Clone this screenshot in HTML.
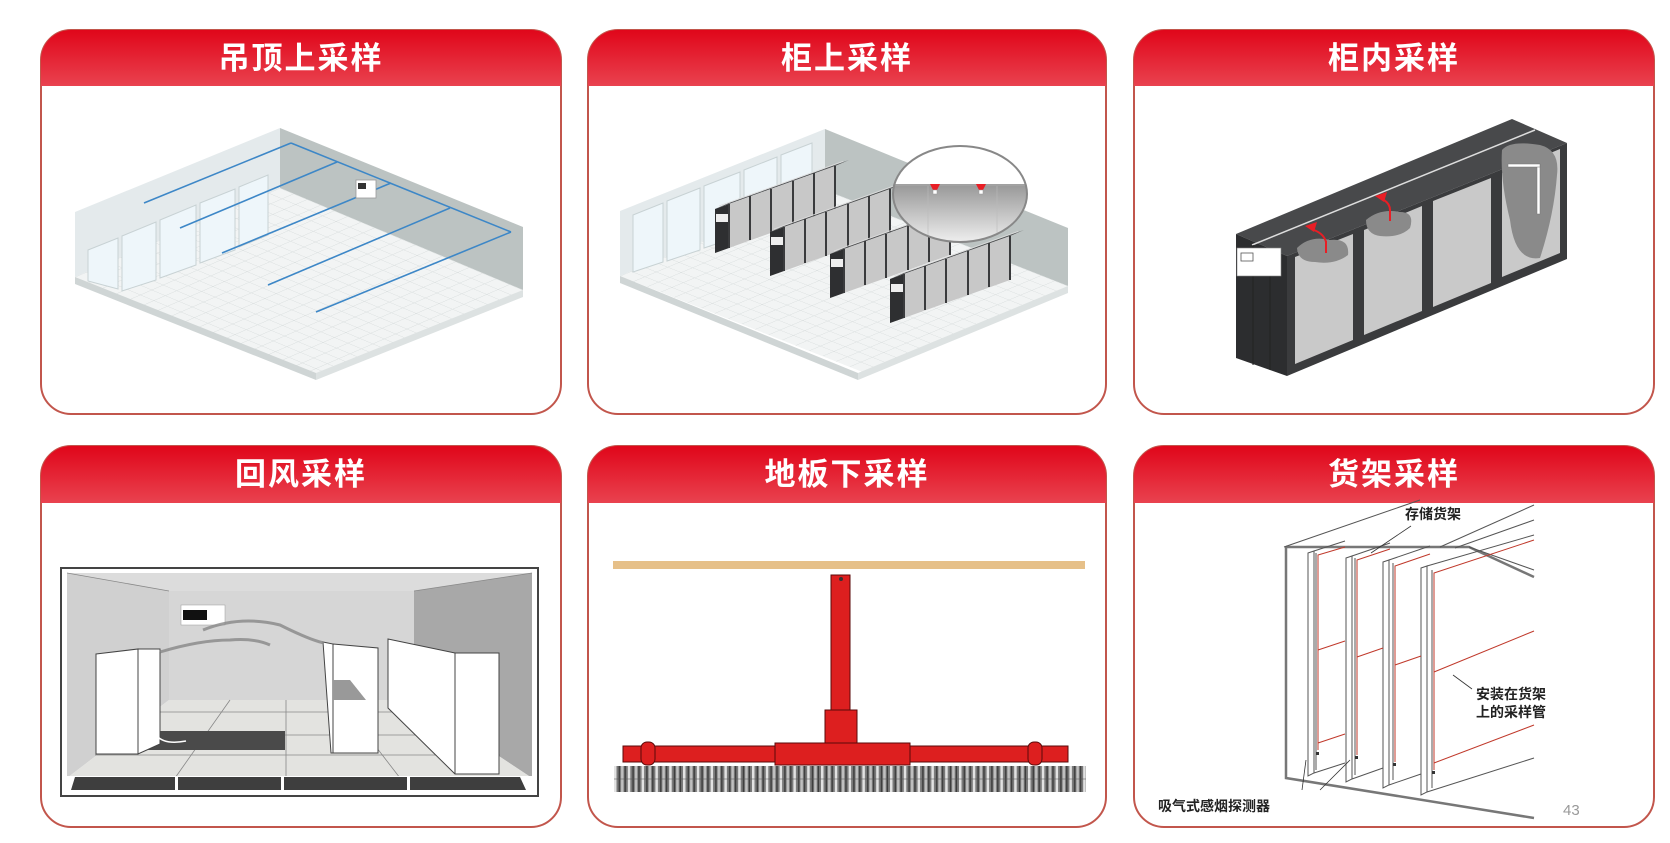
<!DOCTYPE html>
<html><head><meta charset="utf-8">
<style>
html,body{margin:0;padding:0;background:#fff;}
svg{display:block;}
text{font-family:"Liberation Sans","Noto Sans CJK SC",sans-serif;}
</style></head>
<body>
<svg width="1670" height="843" viewBox="0 0 1670 843" xmlns="http://www.w3.org/2000/svg">
<defs>
<linearGradient id="hg" x1="0" y1="0" x2="0" y2="1">
<stop offset="0" stop-color="#e0061a"/><stop offset="1" stop-color="#e9424f"/>
</linearGradient>
<linearGradient id="mg" x1="0" y1="0" x2="0" y2="1">
<stop offset="0" stop-color="#555"/><stop offset="1" stop-color="#fafafa"/>
</linearGradient>
<pattern id="tile" patternUnits="userSpaceOnUse" width="0.0555556" height="0.0555556">
<rect width="0.0555556" height="0.0555556" fill="#f2f4f4"/>
<path d="M0,0 H0.0555556 M0,0 V0.0555556" stroke="#d6dbdb" stroke-width="0.004" fill="none"/>
</pattern>
<pattern id="grt" patternUnits="userSpaceOnUse" x="614" y="0" width="13.8" height="30">
<rect width="13.8" height="30" fill="#7a7a7a"/>
<rect x="0" width="2.5" height="30" fill="#e2e2e2"/>
<rect x="4.6" width="1.4" height="30" fill="#3c3c3c"/>
<rect x="7" width="2.5" height="30" fill="#c0c0c0"/>
<rect x="10.5" width="1.4" height="30" fill="#3c3c3c"/>
</pattern>
<g id="rk">
<polygon points="0,-44 14,-50 134,-93 120,-87" fill="#4a4b4d"/>
<polygon points="0,0 0,-44 120,-87 120,-43" fill="#c8c8c8"/>
<polygon points="0,0 0,-44 14,-49 14,-5" fill="#2e2f31"/>
<g stroke="#3a3b3d" stroke-width="2">
<line x1="14" y1="-49" x2="14" y2="-5"/>
<line x1="35" y1="-57" x2="35" y2="-13"/>
<line x1="56" y1="-64" x2="56" y2="-20"/>
<line x1="78" y1="-72" x2="78" y2="-28"/>
<line x1="99" y1="-80" x2="99" y2="-36"/>
<line x1="120" y1="-87" x2="120" y2="-43"/>
</g>
<line x1="4" y1="-47" x2="128" y2="-91.6" stroke="#ddd" stroke-width="0.8"/>
<rect x="1" y="-39" width="12" height="8" fill="#eee"/>
</g>
<clipPath id="c1"><rect x="41" y="30" width="520" height="384" rx="30"/></clipPath>
<clipPath id="c2"><rect x="588" y="30" width="518" height="384" rx="30"/></clipPath>
<clipPath id="c3"><rect x="1134" y="30" width="520" height="384" rx="30"/></clipPath>
<clipPath id="c4"><rect x="41" y="446" width="520" height="381" rx="30"/></clipPath>
<clipPath id="c5"><rect x="588" y="446" width="518" height="381" rx="30"/></clipPath>
<clipPath id="c6"><rect x="1134" y="446" width="520" height="381" rx="30"/></clipPath>
<clipPath id="mag"><ellipse cx="960" cy="194" rx="67" ry="48"/></clipPath>
</defs>

<g fill="#fff" stroke="#c2564c" stroke-width="2">
<rect x="41" y="30" width="520" height="384" rx="30"/>
<rect x="588" y="30" width="518" height="384" rx="30"/>
<rect x="1134" y="30" width="520" height="384" rx="30"/>
<rect x="41" y="446" width="520" height="381" rx="30"/>
<rect x="588" y="446" width="518" height="381" rx="30"/>
<rect x="1134" y="446" width="520" height="381" rx="30"/>
</g>
<rect x="41" y="30" width="520" height="56" fill="url(#hg)" clip-path="url(#c1)"/>
<rect x="588" y="30" width="518" height="56" fill="url(#hg)" clip-path="url(#c2)"/>
<rect x="1134" y="30" width="520" height="56" fill="url(#hg)" clip-path="url(#c3)"/>
<rect x="41" y="446" width="520" height="57" fill="url(#hg)" clip-path="url(#c4)"/>
<rect x="588" y="446" width="518" height="57" fill="url(#hg)" clip-path="url(#c5)"/>
<rect x="1134" y="446" width="520" height="57" fill="url(#hg)" clip-path="url(#c6)"/>
<g fill="#fff" font-size="31" font-weight="700" text-anchor="middle" letter-spacing="2">
<text x="301" y="69">吊顶上采样</text>
<text x="847" y="69">柜上采样</text>
<text x="1394" y="69">柜内采样</text>
<text x="301" y="485">回风采样</text>
<text x="847" y="485">地板下采样</text>
<text x="1394" y="485">货架采样</text>
</g>

<!-- Panel 1 -->
<g>
<polygon points="280,128 523,227 523,290 280,188" fill="#bcc3c2"/>
<polygon points="75,212 280,128 280,188 75,277" fill="#e4eaec"/>
<g transform="matrix(243,102,-205,89,280,188)"><rect x="0" y="0" width="1" height="1" fill="url(#tile)"/></g>
<polygon points="75,277 316,373 316,380 75,284" fill="#cfd5d5"/>
<polygon points="316,373 523,290 523,297 316,380" fill="#dde2e2"/>
<g fill="#eef6fa" stroke="#c8d2d4" stroke-width="1">
<polygon points="88,250 118,238 118,289 88,281"/>
<polygon points="122,236 156,222 156,280 122,291"/>
<polygon points="160,220 196,205 196,265 160,278"/>
<polygon points="200,203 235,189 235,250 200,263"/>
<polygon points="239,187 268,175 268,235 239,247"/>
</g>
<g stroke="#3d87c7" stroke-width="1.6">
<line x1="291" y1="143" x2="511" y2="232"/>
<line x1="291" y1="143" x2="144" y2="203"/>
<line x1="337" y1="162" x2="180" y2="228"/>
<line x1="391" y1="183" x2="222" y2="253"/>
<line x1="450" y1="208" x2="268" y2="285"/>
<line x1="511" y1="232" x2="316" y2="312"/>
</g>
<rect x="356" y="180" width="20" height="18" fill="#fff" stroke="#999" stroke-width=".8"/>
<rect x="358" y="183" width="8" height="6" fill="#333"/>
</g>

<!-- Panel 2 -->
<g>
<polygon points="825,129 1068,228 1068,286 825,190" fill="#bcc3c2"/>
<polygon points="620,211 825,129 825,190 620,276" fill="#e4eaec"/>
<g transform="matrix(243,96,-205,86,825,190)"><rect x="0" y="0" width="1" height="1" fill="url(#tile)"/></g>
<polygon points="620,276 858,373 858,380 620,283" fill="#cfd5d5"/>
<polygon points="858,373 1068,286 1068,293 858,380" fill="#dde2e2"/>
<g fill="#eef6fa" stroke="#c8d2d4" stroke-width="1">
<polygon points="633,215 663,203 663,262 633,272"/>
<polygon points="667,201 700,188 700,250 667,261"/>
<polygon points="704,186 740,172 740,236 704,248"/>
<polygon points="744,170 777,157 777,222 744,234"/>
<polygon points="781,155 812,143 812,208 781,220"/>
</g>
<use href="#rk" x="715" y="253"/>
<use href="#rk" x="770" y="276"/>
<use href="#rk" x="830" y="298"/>
<use href="#rk" x="890" y="323"/>
<g clip-path="url(#mag)">
<rect x="890" y="140" width="140" height="110" fill="url(#mg)"/>
<rect x="890" y="140" width="140" height="44" fill="#fff"/>
<line x1="890" y1="185" x2="1030" y2="185" stroke="#aaa" stroke-width="1"/>
<line x1="928" y1="186" x2="928" y2="250" stroke="#bbb" stroke-width=".6"/>
<line x1="997" y1="186" x2="997" y2="250" stroke="#bbb" stroke-width=".6"/>
<polygon points="930,184 940,184 937,190 933,190" fill="#e81e25"/>
<polygon points="976,184 986,184 983,190 979,190" fill="#e81e25"/>
<rect x="933" y="190" width="4" height="4" fill="#fff" stroke="#999" stroke-width=".5"/>
<rect x="979" y="190" width="4" height="4" fill="#fff" stroke="#999" stroke-width=".5"/>
</g>
<ellipse cx="960" cy="194" rx="67" ry="48" fill="none" stroke="#888" stroke-width="2"/>
</g>

<!-- Panel 3 -->
<g>
<polygon points="1236,234 1512,119 1567,143 1287,256" fill="#48494b"/>
<polygon points="1287,256 1567,143 1567,259 1287,376" fill="#3a3b3d"/>
<polygon points="1236,234 1287,256 1287,376 1236,358" fill="#2c2d2f"/>
<line x1="1252" y1="245" x2="1535" y2="130" stroke="#ddd" stroke-width="1.5"/>
<line x1="1253" y1="245" x2="1253" y2="365" stroke="#222"/>
<line x1="1270" y1="250" x2="1270" y2="370" stroke="#222"/>
<g fill="#c9c9c9">
<polygon points="1295,257 1353,234 1353,340 1295,364"/>
<polygon points="1364,230 1422,206 1422,311 1364,335"/>
<polygon points="1433,201 1491,178 1491,283 1433,307"/>
<polygon points="1502,173 1560,149 1560,253 1502,277"/>
</g>
<path d="M1297,248 Q1310,235 1330,240 Q1350,238 1348,255 Q1335,265 1315,262 Q1298,262 1297,248Z" fill="#8a8a8a"/>
<path d="M1366,220 Q1380,208 1400,212 Q1415,212 1410,228 Q1400,238 1380,236 Q1366,234 1366,220Z" fill="#8a8a8a"/>
<path d="M1502,150 Q1510,140 1540,145 Q1560,150 1557,175 Q1554,215 1540,258 Q1515,262 1510,220 Q1500,180 1502,150Z" fill="#8a8a8a"/>
<rect x="1537" y="164" width="3" height="50" fill="#fff" stroke="#777" stroke-width=".5"/>
<rect x="1508" y="164" width="32" height="3" fill="#fff" stroke="#777" stroke-width=".5"/>
<g fill="#e81e25">
<polygon points="1305,226 1317,222 1314,232"/>
<rect x="1325" y="241" width="2" height="12"/>
<polygon points="1375,196 1387,192 1384,202"/>
<rect x="1389" y="209" width="2" height="12"/>
</g>
<path d="M1314,230 Q1324,234 1326,242" stroke="#e81e25" stroke-width="2" fill="none"/>
<path d="M1384,200 Q1390,204 1390,210" stroke="#e81e25" stroke-width="2" fill="none"/>
<rect x="1237" y="248" width="44" height="28" fill="#fff" stroke="#888" stroke-width=".6"/>
<rect x="1241" y="253" width="12" height="8" fill="#fff" stroke="#555" stroke-width=".8"/>
</g>

<!-- Panel 4 -->
<g>
<rect x="61" y="568" width="477" height="228" fill="#fff" stroke="#444" stroke-width="2"/>
<polygon points="67,573 532,573 414,591 169,591" fill="#dcdcdc"/>
<polygon points="67,573 169,591 169,700 67,778" fill="#d0d0d0"/>
<polygon points="532,573 414,591 414,700 532,778" fill="#a8a8a8"/>
<rect x="169" y="591" width="245" height="109" fill="#d6d6d6"/>
<polygon points="169,700 414,700 532,778 67,778" fill="#e3e3e0"/>
<g stroke="#888" stroke-width=".8" fill="none">
<line x1="169" y1="591" x2="67" y2="573"/><line x1="414" y1="591" x2="532" y2="573"/>
<line x1="150" y1="712" x2="450" y2="712"/><line x1="120" y1="735" x2="470" y2="735"/>
<line x1="95" y1="755" x2="500" y2="755"/>
<line x1="230" y1="700" x2="175" y2="778"/><line x1="286" y1="700" x2="286" y2="778"/><line x1="340" y1="700" x2="400" y2="778"/>
</g>
<polygon points="141,731 285,731 285,750 135,750" fill="#4a4a4a"/>
<rect x="67" y="776" width="465" height="18" fill="#fff"/>
<polygon points="71,790 75,777 520,777 526,790" fill="#3e3e3e"/>
<g fill="#fff"><rect x="175" y="776" width="3" height="16"/><rect x="281" y="776" width="3" height="16"/><rect x="407" y="776" width="3" height="16"/></g>
<g fill="#fff" stroke="#444" stroke-width="1">
<polygon points="96,654 138,649 138,754 96,754"/>
<polygon points="138,649 160,649 160,744 138,754"/>
<polygon points="333,644 378,648 378,753 333,753"/>
<polygon points="323,642 333,644 333,753 331,753"/>
<polygon points="388,639 455,653 499,653 499,774 455,774 388,708"/>
<line x1="455" y1="653" x2="455" y2="774"/>
</g>
<polygon points="333,680 350,680 366,700 333,700" fill="#999"/>
<rect x="181" y="605" width="44" height="20" fill="#fff" stroke="#999" stroke-width=".5"/>
<rect x="183" y="610" width="24" height="10" fill="#111"/>
<g fill="none" stroke="#888" stroke-width="3" opacity=".8">
<path d="M160,652 Q200,640 230,640 Q255,638 270,645"/>
<path d="M203,630 Q240,615 280,625 Q310,640 324,643"/>
</g>
<path d="M157,736 Q165,745 186,741" stroke="#fff" stroke-width="1.5" fill="none"/>
</g>

<!-- Panel 5 -->
<g>
<rect x="613" y="561" width="472" height="8" fill="#e6c089"/>
<rect x="614" y="766" width="472" height="26" fill="url(#grt)"/>
<line x1="614" y1="779" x2="1086" y2="779" stroke="#555" stroke-width="0.6"/>
<g fill="#dd1f1f" stroke="#5a0a0a" stroke-width="1">
<rect x="831" y="575" width="19" height="135"/>
<rect x="825" y="710" width="32" height="33"/>
<rect x="623" y="746" width="445" height="16"/>
<rect x="775" y="743" width="135" height="22"/>
<rect x="641" y="742" width="14" height="23" rx="6"/>
<rect x="1028" y="742" width="14" height="23" rx="6"/>
</g>
<circle cx="841" cy="579" r="2" fill="#333"/>
</g>

<!-- Panel 6 -->
<g fill="none">
<g stroke="#777" stroke-width="2.5">
<polyline points="1286,547 1286,778 1534,818"/>
<polyline points="1286,547 1469,547 1534,577"/>
</g>
<g stroke="#555" stroke-width="1">
<line x1="1284" y1="547" x2="1420" y2="500"/>
<line x1="1440" y1="547" x2="1534" y2="505"/>
<line x1="1455" y1="548" x2="1534" y2="520"/>
<line x1="1469" y1="547" x2="1534" y2="570"/>
<polygon points="1308,553 1314,551 1314,773 1308,776"/>
<polygon points="1346,558 1352,556 1352,779 1346,782"/>
<polygon points="1383,562 1389,560 1389,785 1383,788"/>
<polygon points="1421,568 1427,566 1427,792 1421,795"/>
<line x1="1314" y1="551" x2="1345" y2="541"/><line x1="1314" y1="773" x2="1345" y2="763"/>
<line x1="1352" y1="556" x2="1390" y2="543"/><line x1="1352" y1="779" x2="1383" y2="768"/>
<line x1="1389" y1="560" x2="1430" y2="546"/><line x1="1389" y1="785" x2="1421" y2="774"/>
<line x1="1427" y1="566" x2="1534" y2="535"/><line x1="1427" y1="792" x2="1534" y2="758"/>
<line x1="1316" y1="553" x2="1316" y2="770"/><line x1="1355" y1="558" x2="1355" y2="775"/>
<line x1="1393" y1="563" x2="1393" y2="780"/><line x1="1432" y1="570" x2="1432" y2="788"/>
</g>
<g stroke="#c0392b" stroke-width="1">
<polyline points="1318,750 1318,555 1345,547"/>
<polyline points="1357,755 1357,560 1390,549"/>
<polyline points="1395,762 1395,566 1430,554"/>
<polyline points="1434,770 1434,573 1534,540"/>
<line x1="1318" y1="650" x2="1345" y2="641"/><line x1="1357" y1="657" x2="1383" y2="648"/>
<line x1="1395" y1="665" x2="1421" y2="656"/><line x1="1434" y1="672" x2="1534" y2="631"/>
<line x1="1318" y1="743" x2="1345" y2="734"/><line x1="1434" y1="763" x2="1534" y2="725"/>
</g>
<g fill="#333"><rect x="1316" y="752" width="3" height="3"/><rect x="1355" y="756" width="3" height="3"/><rect x="1393" y="763" width="3" height="3"/><rect x="1432" y="771" width="3" height="3"/></g>
<g stroke="#333" stroke-width=".8">
<line x1="1411" y1="526" x2="1371" y2="553"/><line x1="1453" y1="675" x2="1472" y2="689"/>
<line x1="1306" y1="760" x2="1302" y2="790"/><line x1="1350" y1="760" x2="1320" y2="790"/>
</g>
</g>
<g font-size="14" font-weight="700" fill="#222">
<text x="1405" y="519">存储货架</text>
<text x="1476" y="699">安装在货架</text>
<text x="1476" y="717">上的采样管</text>
<text x="1158" y="811">吸气式感烟探测器</text>
</g>
<text x="1563" y="815" font-size="15" fill="#999">43</text>
</svg>
</body></html>
